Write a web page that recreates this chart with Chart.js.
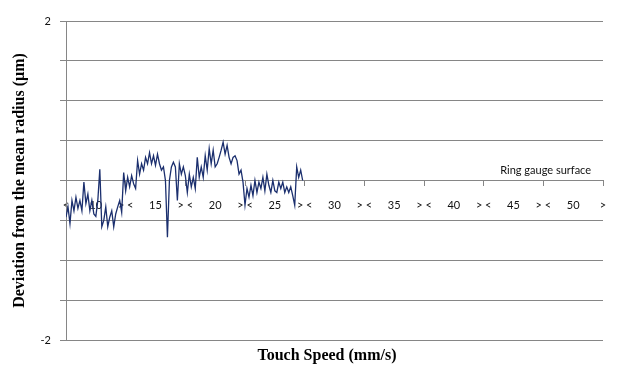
<!DOCTYPE html>
<html>
<head>
<meta charset="utf-8">
<script src="https://cdn.jsdelivr.net/npm/chart.js@4/dist/chart.umd.min.js"></script>
<style>
  html, body { margin: 0; padding: 0; background: #fff; }
  #wrap { width: 628px; height: 377px; position: relative; }
</style>
</head>
<body>
<div id="wrap"><canvas id="deviationChart"></canvas></div>
<script>
// Deviation from mean radius, sampled along touch speed groups

const samplesPerGroup = 30;   // samples per label group on the x axis
const axisLabels = ['<', '10', '> <', '15', '> <', '20', '> <', '25', '> <', '30',
                    '> <', '35', '> <', '40', '> <', '45', '> <', '50', '>'];
const yTickLabels = { '2': '2', '-2': '-2' };

const deviation = [
    -0.46, -0.33, -0.54, -0.25, -0.38, -0.21, -0.35, -0.25, -0.38, -0.02,
    -0.29, -0.17, -0.38, -0.25, -0.42, -0.45, -0.25,  0.14, -0.58, -0.50,
    -0.33, -0.58, -0.46, -0.38, -0.58, -0.42, -0.33, -0.25, -0.40,  0.10,
    -0.13,  0.04, -0.08,  0.06, -0.04, -0.10,  0.25,  0.08,  0.21,  0.13,
     0.29,  0.21,  0.35,  0.21,  0.31,  0.19,  0.33,  0.21,  0.13,  0.17,
     0.00, -0.71,  0.00,  0.17,  0.23,  0.17, -0.25,  0.21,  0.08,  0.17,
     0.06, -0.15,  0.08, -0.08,  0.04, -0.10,  0.29,  0.04,  0.17,  0.04,
     0.31,  0.13,  0.40,  0.21,  0.38,  0.17,  0.21,  0.29,  0.38,  0.48,
     0.33,  0.44,  0.29,  0.21,  0.29,  0.31,  0.25,  0.08,  0.13, -0.02,
    -0.31, -0.10, -0.21, -0.06, -0.19,  0.00, -0.15, -0.02, -0.10,  0.04,
    -0.13,  0.08, -0.06, -0.15,  0.00, -0.13, -0.15, -0.02, -0.10, -0.02,
    -0.15, -0.08, -0.15, -0.08, -0.19, -0.31,  0.17,  0.04,  0.13,  0.00
];

const surfaceLabel = 'Ring gauge surface';
const xTitle = 'Touch Speed (mm/s)';

const gridGray = '#868686';
const lineBlue = '#1b2f6e';

const points = deviation.map((v, i) => ({ x: i / samplesPerGroup, y: v }));

// "Ring gauge surface" note above the zero line, and the x title under the plot
const extraText = {
    id: 'extraText',
    afterDraw(chart) {
        const { ctx, scales, chartArea } = chart;
        ctx.save();
        ctx.font = '11px Lato';
        ctx.fillStyle = '#111';
        ctx.textAlign = 'right';
        ctx.textBaseline = 'middle';
        ctx.fillText(surfaceLabel, scales.x.getPixelForValue(8.8), scales.y.getPixelForValue(0.12));

        ctx.font = 'bold 16px "Liberation Serif"';
        ctx.fillStyle = '#000';
        ctx.textAlign = 'center';
        ctx.fillText(xTitle, chartArea.left + 261, chartArea.bottom + 16);
        ctx.restore();
    }
};

new Chart(document.getElementById('deviationChart'), {
    type: 'line',
    data: {
        datasets: [{
            data: points,
            borderColor: lineBlue,
            borderWidth: 1.3,
            pointRadius: 0,
            tension: 0,
            fill: false
        }]
    },
    options: {
        responsive: true,
        maintainAspectRatio: false,
        animation: false,
        layout: { padding: { top: 21, right: 25, left: 0, bottom: 37 } },
        plugins: {
            legend: { display: false },
            tooltip: { enabled: false }
        },
        scales: {
            x: {
                type: 'linear',
                position: { y: 0 },
                min: 0,
                max: 9,
                border: { display: true, color: gridGray, width: 1 },
                grid: {
                    drawOnChartArea: false,
                    drawTicks: true,
                    tickLength: 5,
                    tickColor: c => (c.tick && Number.isInteger(c.tick.value)) ? gridGray : 'rgba(0,0,0,0)'
                },
                ticks: {
                    stepSize: 0.5,
                    autoSkip: false,
                    maxRotation: 0,
                    padding: 13,
                    color: '#111',
                    font: { family: 'Lato', size: 11 },
                    callback: (v, i) => axisLabels[i]
                }
            },
            y: {
                min: -2,
                max: 2,
                afterFit: s => { s.width = 66; },
                border: { display: true, color: gridGray, width: 1 },
                grid: { color: gridGray, lineWidth: 1, tickLength: 6 },
                ticks: {
                    stepSize: 0.5,
                    padding: 9,
                    color: '#111',
                    font: { family: 'Lato', size: 11 },
                    callback: v => yTickLabels[String(v)] || ''
                },
                title: {
                    display: true,
                    text: 'Deviation from the mean radius (\u00b5m)',
                    color: '#000',
                    font: { family: 'Liberation Serif', size: 16, weight: 'bold' },
                    padding: { top: 10, bottom: 4 }
                }
            }
        }
    },
    plugins: [extraText]
});
</script>
</body>
</html>
